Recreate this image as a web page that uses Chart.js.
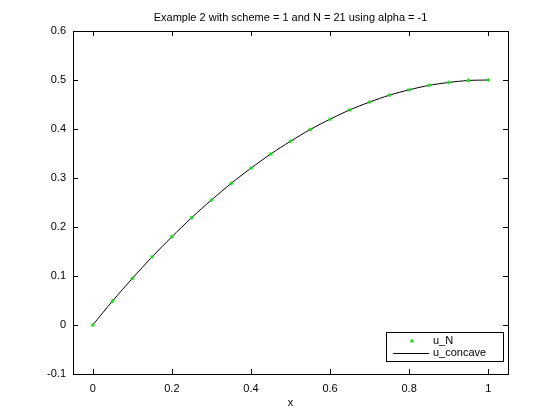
<!DOCTYPE html>
<html>
<head>
<meta charset="utf-8">
<script src="https://cdn.jsdelivr.net/npm/chart.js@4"></script>
<style>
  html, body { margin: 0; padding: 0; background: #fff; }
  #wrap { width: 560px; height: 420px; }
</style>
</head>
<body>
<div id="wrap"><canvas id="chart" width="560" height="420"></canvas></div>
<script>
// Data
const xValues = [0, 0.05, 0.1, 0.15, 0.2, 0.25, 0.3, 0.35, 0.4, 0.45, 0.5,
                 0.55, 0.6, 0.65, 0.7, 0.75, 0.8, 0.85, 0.9, 0.95, 1];
const uN = [0, 0.049, 0.095, 0.139, 0.18, 0.219, 0.255, 0.289, 0.32, 0.349, 0.375,
            0.399, 0.42, 0.439, 0.455, 0.469, 0.48, 0.489, 0.495, 0.499, 0.5];
const uConcave = [0, 0.049, 0.095, 0.139, 0.18, 0.219, 0.255, 0.289, 0.32, 0.349, 0.375,
                  0.399, 0.42, 0.439, 0.455, 0.469, 0.48, 0.489, 0.495, 0.499, 0.5];
const xTicks = [0, 0.2, 0.4, 0.6, 0.8, 1];
const yTicks = [-0.1, 0, 0.1, 0.2, 0.3, 0.4, 0.5, 0.6];
const titleText = 'Example 2 with scheme = 1 and N = 21 using alpha = -1';

const FONT = 'Arial, "Liberation Sans", sans-serif';
const GREEN = '#1ed81e';

// Box around axes with inward ticks, title and legend, MATLAB style
const boxPlugin = {
    id: 'box',
    afterDatasetsDraw(chart) {
        const { ctx, chartArea: a, scales } = chart;
        ctx.save();
        ctx.strokeStyle = '#000';
        ctx.lineWidth = 1;
        ctx.strokeRect(Math.round(a.left) + 0.5, Math.round(a.top) + 0.5,
                       Math.round(a.right - a.left), Math.round(a.bottom - a.top));
        ctx.beginPath();
        xTicks.forEach(v => {
            const px = Math.round(scales.x.getPixelForValue(v)) + 0.5;
            ctx.moveTo(px, a.bottom); ctx.lineTo(px, a.bottom - 5);
            ctx.moveTo(px, a.top); ctx.lineTo(px, a.top + 5);
        });
        yTicks.forEach(v => {
            const py = Math.round(scales.y.getPixelForValue(v)) + 0.5;
            ctx.moveTo(a.left, py); ctx.lineTo(a.left + 5, py);
            ctx.moveTo(a.right, py); ctx.lineTo(a.right - 5, py);
        });
        ctx.stroke();

        // title centred over the axes
        ctx.fillStyle = '#000';
        ctx.font = '11px ' + FONT;
        ctx.textAlign = 'center';
        ctx.textBaseline = 'middle';
        ctx.fillText(titleText, (a.left + a.right) / 2, 18);

        // legend in lower right corner
        const lx = 386, ly = 332, lw = 117, lh = 29;
        ctx.fillStyle = '#fff';
        ctx.fillRect(lx, ly, lw, lh);
        ctx.strokeRect(lx + 0.5, ly + 0.5, lw, lh);
        ctx.fillStyle = '#000';
        ctx.textAlign = 'left';
        ctx.fillText('u_N', lx + 47, ly + 9);
        ctx.fillText('u_concave', lx + 47, ly + 21);
        ctx.beginPath();
        ctx.moveTo(lx + 7, ly + 21.5); ctx.lineTo(lx + 43, ly + 21.5);
        ctx.stroke();
        ctx.strokeStyle = GREEN;
        Chart.helpers.drawPoint(ctx, { pointStyle: 'star', radius: 2, rotation: 0,
            borderWidth: 1 }, lx + 26, ly + 9);
        ctx.restore();
    }
};

const ctx = document.getElementById('chart');
new Chart(ctx, {
    type: 'line',
    data: {
        datasets: [
            {
                label: 'u_N',
                data: xValues.map((x, i) => ({ x: x, y: uN[i] })),
                showLine: false,
                pointStyle: 'star',
                pointRadius: 2,
                pointBorderWidth: 1,
                pointBorderColor: GREEN,
                pointBackgroundColor: GREEN
            },
            {
                label: 'u_concave',
                data: xValues.map((x, i) => ({ x: x, y: uConcave[i] })),
                borderColor: '#000',
                borderWidth: 1,
                pointRadius: 0,
                tension: 0.3
            }
        ]
    },
    options: {
        responsive: false,
        animation: false,
        layout: { padding: { left: 0, right: 52, top: 31, bottom: 10 } },
        plugins: {
            legend: { display: false },
            tooltip: { enabled: false },
            title: { display: false }
        },
        scales: {
            x: {
                type: 'linear',
                min: -0.05,
                max: 1.05,
                afterBuildTicks: s => { s.ticks = xTicks.map(v => ({ value: v })); },
                afterFit: s => { s.height = 36; },
                grid: { display: false, drawTicks: false },
                border: { display: false },
                ticks: {
                    color: '#000',
                    padding: 8,
                    maxRotation: 0,
                    font: { family: FONT, size: 11 },
                    callback: v => String(Math.round(v * 10) / 10)
                },
                title: {
                    display: true,
                    text: 'x',
                    color: '#000',
                    font: { family: FONT, size: 11 },
                    padding: { top: 4, bottom: 0 }
                }
            },
            y: {
                type: 'linear',
                min: -0.1,
                max: 0.6,
                afterBuildTicks: s => { s.ticks = yTicks.map(v => ({ value: v })); },
                afterFit: s => { s.width = 73; },
                grid: { display: false, drawTicks: false },
                border: { display: false },
                ticks: {
                    color: '#000',
                    padding: 7,
                    font: { family: FONT, size: 11 },
                    callback: v => String(Math.round(v * 10) / 10)
                }
            }
        }
    },
    plugins: [boxPlugin]
});
</script>
</body>
</html>
